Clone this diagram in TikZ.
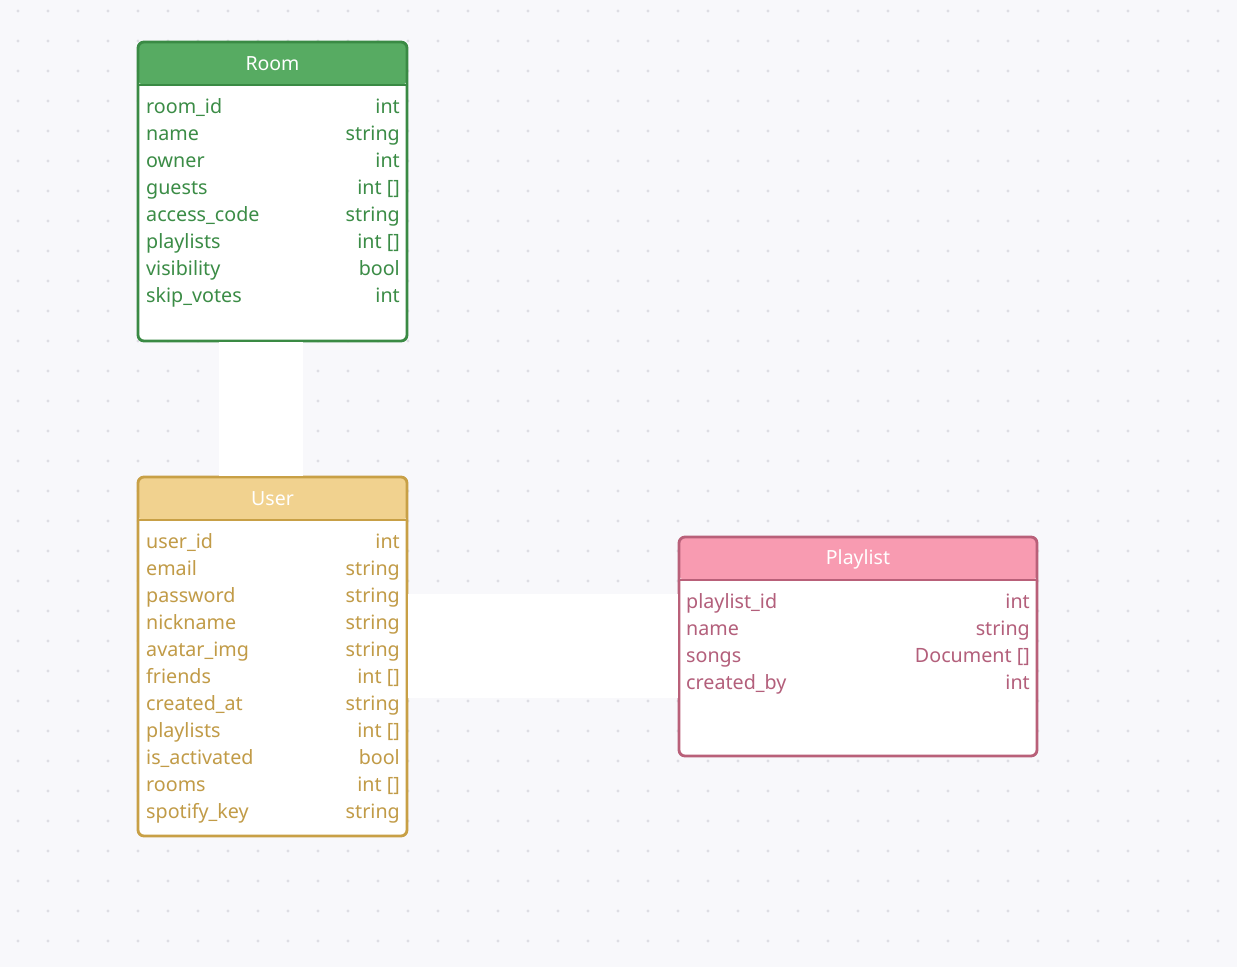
\documentclass[tikz,border=0pt]{standalone}
\usepackage{fontspec}
\setmainfont{Noto Sans}
\usetikzlibrary{positioning, calc}

\definecolor{bg}{HTML}{F8F8FB}
\definecolor{dotgrey}{HTML}{DEDEE4}
\definecolor{room-head}{HTML}{57AB62}
\definecolor{room-line}{HTML}{3A8A44}
\definecolor{room-text}{HTML}{3B8C46}
\definecolor{user-head}{HTML}{F1D28F}
\definecolor{user-line}{HTML}{C8A046}
\definecolor{user-text}{HTML}{C19B47}
\definecolor{playlist-head}{HTML}{F89BB1}
\definecolor{playlist-line}{HTML}{B96079}
\definecolor{playlist-text}{HTML}{B35F7B}

\begin{document}
\begin{tikzpicture}
[
    x=1pt, y=-1pt, auto,
    % Tables are named after the entity: room, user, playlist
    % Field nodes are named <table>-f-<row>, type nodes <table>-t-<row>
]

%=================================== Start ===================================
\tikzstyle{tbl}  = [
    draw=#1-line, line width=2.8pt, fill=white, rounded corners=6pt,
    minimum width=269pt, inner sep=0pt,
    path picture={
        % header band, clipped to the rounded table shape
        \fill[#1-head] (path picture bounding box.north west)
            rectangle ([yshift=-43pt]path picture bounding box.north east);
        \draw[#1-line, line width=2.8pt]
            ([yshift=-43pt]path picture bounding box.north west)
            -- ([yshift=-43pt]path picture bounding box.north east);
    }
]
\tikzstyle{head} = [text=white, font=\fontsize{19.5}{22}\selectfont, inner sep=0pt]
\tikzstyle{fld}  = [text=#1-text, font=\fontsize{19.7}{22}\selectfont, inner sep=0pt]
\tikzstyle{link} = [draw=white, line width=#1]

% Background and dot grid
\fill[bg] (0,0) rectangle (1237,967);
\foreach \x in {18,48,...,1237}
    \foreach \y in {11,41,...,967}
        \fill[dotgrey] (\x,\y) circle (1.6pt);

{
    % Draw tables
    \node[tbl=room, minimum height=299pt] (room) at (272.5,191.5) {};
    \node[tbl=user, minimum height=359pt] (user) at (272.5,656.5) {};
    \node[tbl=playlist, minimum width=358pt, minimum height=219pt]
          (playlist) at (858,646.5) {};

    % Draw titles
    \node[head] (room-title) at (272.5,64) {Room};
    \node[head] (user-title) at (272.5,499) {User};
    \node[head] (playlist-title) at (858,559) {Playlist};

    % Draw rows: field on the left, type on the right
    \foreach \f / \t [count=\i] in {room\_id/int, name/string, owner/int,
            guests/int [], access\_code/string, playlists/int [],
            visibility/bool, skip\_votes/int}
    {
        \node[fld=room, anchor=mid west] (room-f-\i) at (146,84+27*\i) {\f};
        \node[fld=room, anchor=mid east] (room-t-\i) at (400,84+27*\i) {\t};
    }

    \foreach \f / \t [count=\i] in {user\_id/int, email/string,
            password/string, nickname/string, avatar\_img/string,
            friends/int [], created\_at/string, playlists/int [],
            is\_activated/bool, rooms/int [], spotify\_key/string}
    {
        \node[fld=user, anchor=mid west] (user-f-\i) at (146,519+27*\i) {\f};
        \node[fld=user, anchor=mid east] (user-t-\i) at (400,519+27*\i) {\t};
    }

    \foreach \f / \t [count=\i] in {playlist\_id/int, name/string,
            songs/Document [], created\_by/int}
    {
        \node[fld=playlist, anchor=mid west] (playlist-f-\i) at (686,579+27*\i) {\f};
        \node[fld=playlist, anchor=mid east] (playlist-t-\i) at (1030,579+27*\i) {\t};
    }

    % Connect tables
    \draw[link=84pt] ([xshift=-11.5pt]room.south) -- ([xshift=-11.5pt]user.north);
    \draw[link=104pt] ([yshift=10.5pt]user.east)
        -- ([yshift=10.5pt]user.east -| playlist.west);
}
%==================================== END ====================================

\end{tikzpicture}
\end{document}
